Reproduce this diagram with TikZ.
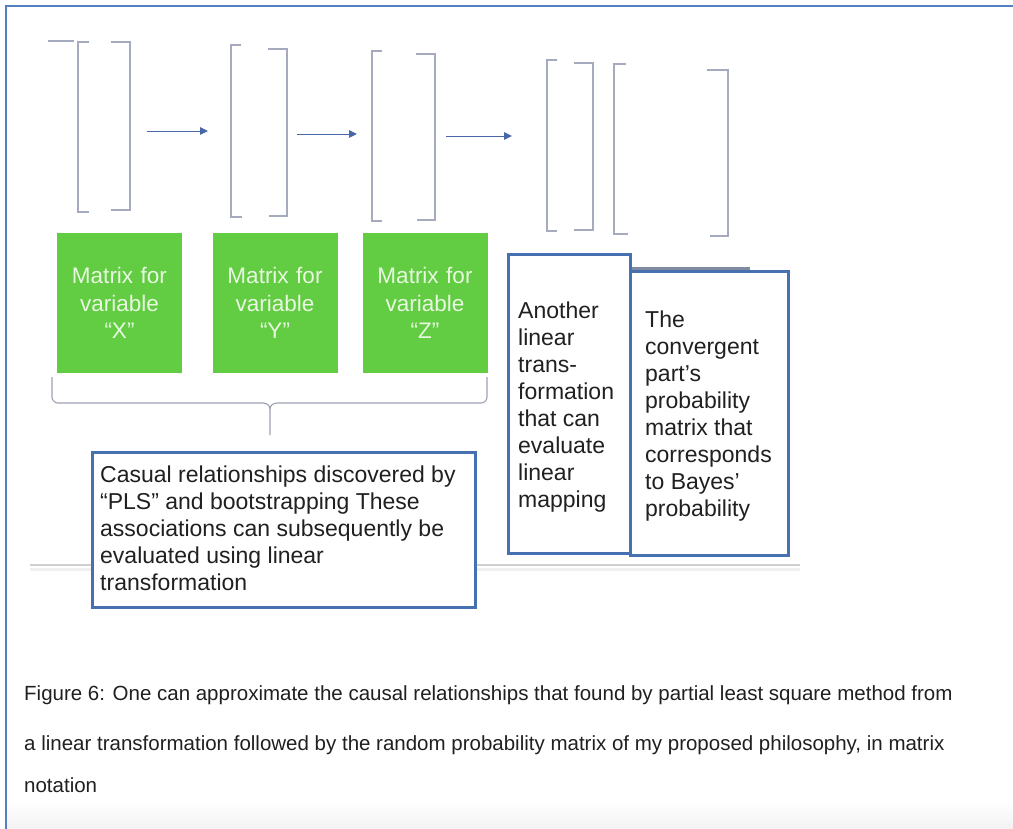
\documentclass[tikz,border=0pt]{standalone}
\usepackage{fontspec}
\setmainfont{Liberation Sans}
\usetikzlibrary{arrows.meta}
\definecolor{framec}{RGB}{84,128,192}
\definecolor{brk}{RGB}{165,170,190}
\definecolor{arrowc}{RGB}{72,102,168}
\definecolor{boxgreen}{RGB}{98,204,66}
\definecolor{greentxt}{RGB}{232,248,225}
\definecolor{boxblue}{RGB}{70,112,176}
\definecolor{inkc}{RGB}{32,32,32}
\definecolor{shadowbar}{RGB}{128,138,160}
\definecolor{floorline}{RGB}{208,208,208}
\begin{document}
\begin{tikzpicture}[x=1pt,y=-1pt,
  bracketline/.style={draw=brk, line width=1.2pt},
  flowarrow/.style={draw=arrowc, line width=0.9pt, -{Triangle[length=8pt,width=7.5pt]}},
  greenbox/.style={fill=boxgreen, minimum width=125pt, minimum height=140pt,
    inner sep=0pt, text width=125pt, align=center, text=greentxt,
    font=\fontsize{22.5}{27.5}\selectfont},
  notebox/.style={draw=boxblue, line width=3pt, fill=white, inner sep=0pt},
  % anchored at the baseline of the last line
  notetext/.style={anchor=base west, inner sep=0pt, align=left, text=inkc,
    font=\fontsize{23}{27}\selectfont},
  captext/.style={anchor=base west, inner sep=0pt, text=inkc,
    font=\fontsize{20.5}{24}\selectfont},
  bracegray/.style={draw=brk!80!gray, line width=1.1pt}
]
\useasboundingbox (0,0) rectangle (1013,829);

% page background, faint floor line and bottom fade
\fill[white] (0,0) rectangle (1013,829);
\shade[top color=white, bottom color=black!5] (6,800) rectangle (1013,829);
\draw[floorline, line width=2.5pt] (30,565) -- (800,565);
\draw[black!6, line width=3pt] (30,569) -- (800,569);

% frame
\draw[framec, line width=2.5pt] (6,829) -- (6,6) -- (1013,6);

% matrix brackets
\draw[bracketline] (48,41) -- (74,41);
\draw[bracketline] (89,42) -- (78,42) -- (78,212) -- (89,212);
\draw[bracketline] (111,42) -- (130,42) -- (130,210) -- (111,210);
\draw[bracketline] (241,45) -- (231,45) -- (231,217) -- (242,217);
\draw[bracketline] (268,49) -- (287,49) -- (287,216) -- (269,216);
\draw[bracketline] (382,51) -- (372,51) -- (372,221) -- (382,221);
\draw[bracketline] (416,54) -- (435,54) -- (435,220) -- (417,220);
\draw[bracketline] (557,60) -- (547,60) -- (547,231) -- (557,231);
\draw[bracketline] (574,63) -- (593,63) -- (593,230) -- (574,230);
\draw[bracketline] (626,64) -- (614,64) -- (614,234) -- (628,234);
\draw[bracketline] (707,70) -- (728,70) -- (728,236) -- (710,236);

% arrows between matrices
\coordinate (a1s) at (147,131);
\coordinate (a1e) at (208,131);
\coordinate (a2s) at (297,134);
\coordinate (a2e) at (357,134);
\coordinate (a3s) at (446,136);
\coordinate (a3e) at (512,136);
\draw[flowarrow] (a1s) -- (a1e);
\draw[flowarrow] (a2s) -- (a2e);
\draw[flowarrow] (a3s) -- (a3e);

% variable boxes
\node[greenbox] (gx) at (119.5,303) {Matrix for\\variable\\“X”};
\node[greenbox] (gy) at (275,303) {Matrix for\\variable\\“Y”};
\node[greenbox] (gz) at (425,303) {Matrix for\\variable\\“Z”};

% brace grouping the three variables
\coordinate (braceL) at (52,377);
\coordinate (braceR) at (487,377);
\coordinate (braceTip) at (270,435);
\draw[bracegray] (braceL) -- (52,397) to[out=-90,in=180] (58,403) -- (263,403)
  to[out=0,in=90] (270,409) -- (braceTip);
\draw[bracegray] (braceR) -- (487,397) to[out=-90,in=0] (481,403) -- (277,403)
  to[out=180,in=90] (270,409);

% explanation boxes
\node[notebox, minimum width=383pt, minimum height=155pt] (casual) at (283.5,529.5) {};
\node[notetext] (casualtext) at (100,590)
  {Casual relationships discovered by\\“PLS” and bootstrapping These\\associations can subsequently be\\evaluated using linear\\transformation};

\fill[shadowbar] (631,267) rectangle (750,272);
\node[notebox, minimum width=158pt, minimum height=283pt] (bayes) at (709,413.5) {};
\node[notetext] (bayestext) at (645,516)
  {The\\convergent\\part’s\\probability\\matrix that\\corresponds\\to Bayes’\\probability};

\node[notebox, minimum width=122pt, minimum height=298pt] (linmap) at (569,404) {};
\node[notetext] (linmaptext) at (518,507)
  {Another\\linear\\trans-\\formation\\that can\\evaluate\\linear\\mapping};

% caption
\node[captext] (cap1) at (24,700.5) {Figure 6: One can approximate the causal relationships that found by partial least square method from};
\node[captext] (cap2) at (24,750) {a linear transformation followed by the random probability matrix of my proposed philosophy, in matrix};
\node[captext] (cap3) at (24,792) {notation};
\end{tikzpicture}
\end{document}
